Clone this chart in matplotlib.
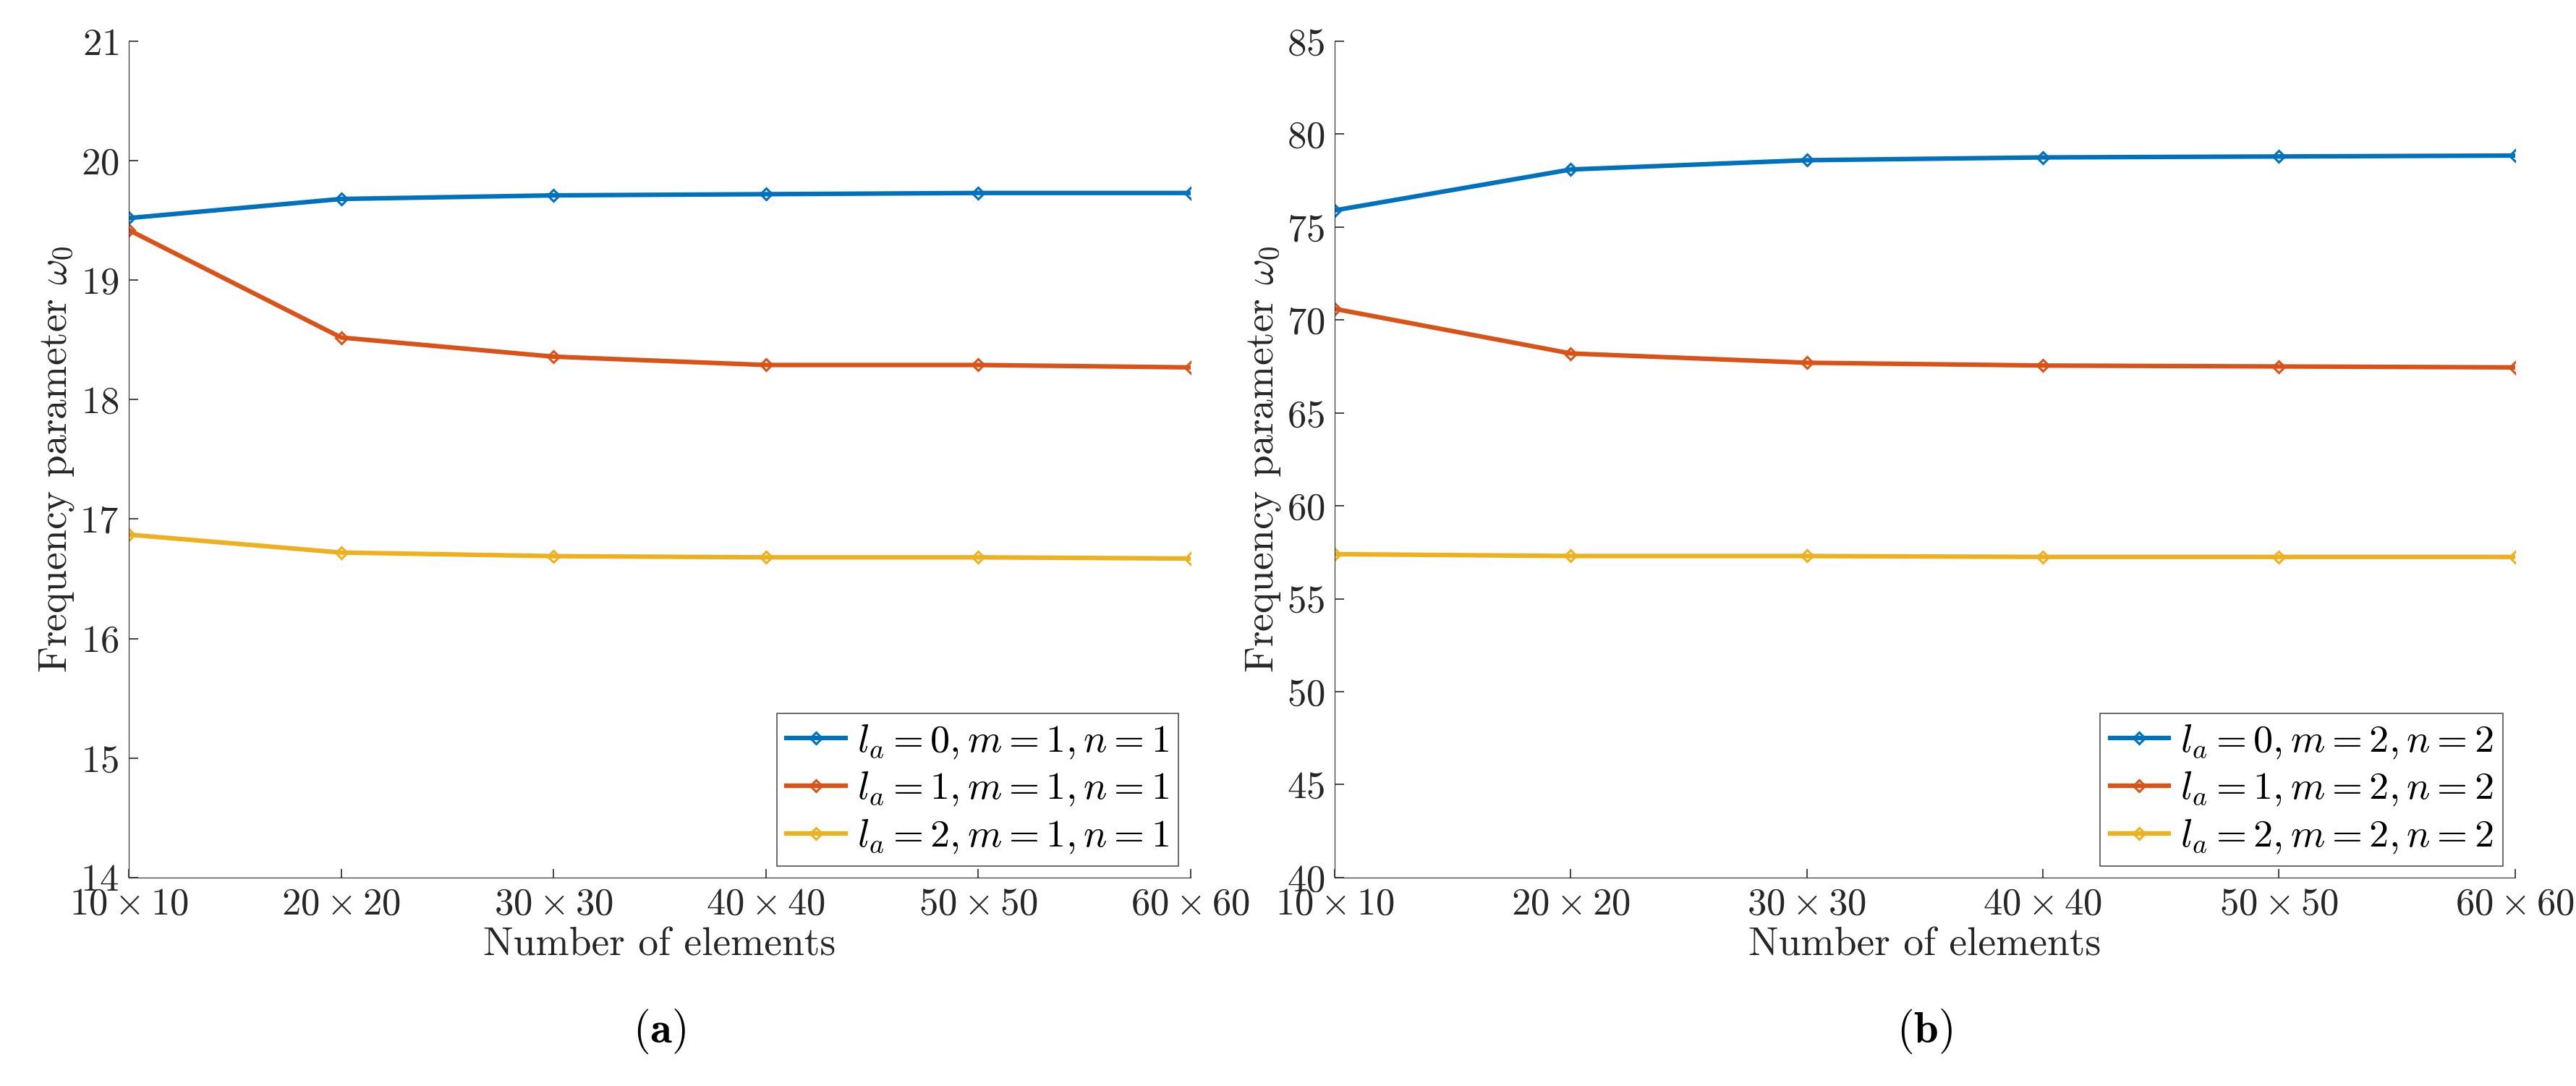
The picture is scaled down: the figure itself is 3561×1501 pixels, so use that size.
import matplotlib
matplotlib.use('Agg')
import matplotlib.pyplot as plt

plt.rcParams['font.family'] = 'serif'
plt.rcParams['font.serif'] = ['cmr10']
plt.rcParams['mathtext.fontset'] = 'cm'
plt.rcParams['axes.formatter.use_mathtext'] = True

mesh = [10, 20, 30, 40, 50, 60]
mesh_labels = [r'$%d\times%d$' % (m, m) for m in mesh]

a_l0 = [19.52, 19.68, 19.71, 19.72, 19.73, 19.73]
a_l1 = [19.42, 18.52, 18.36, 18.29, 18.29, 18.27]
a_l2 = [16.87, 16.72, 16.69, 16.68, 16.68, 16.67]

b_l0 = [75.9, 78.1, 78.6, 78.75, 78.8, 78.85]
b_l1 = [70.6, 68.2, 67.7, 67.55, 67.5, 67.45]
b_l2 = [57.4, 57.3, 57.3, 57.25, 57.25, 57.25]

colors = ['#0072BD', '#D95319', '#EDB120']

fig = plt.figure(figsize=(35.62, 15.01), dpi=100)
ax_a = fig.add_axes([0.050, 0.192, 0.412, 0.770])
ax_b = fig.add_axes([0.518, 0.192, 0.458, 0.770])

panels = [
    (ax_a, [a_l0, a_l1, a_l2], 1, (14, 21), range(14, 22), 'a'),
    (ax_b, [b_l0, b_l1, b_l2], 2, (40, 85), range(40, 86, 5), 'b'),
]
for ax, series, mn, ylim, yticks, tag in panels:
    for i, (vals, c) in enumerate(zip(series, colors)):
        ax.plot(mesh, vals, color=c, lw=4.5, marker='D', ms=8, mfc='none',
                mew=2.2, label=r'$l_a=%d, m=%d, n=%d$' % (i, mn, mn))
    ax.set_xlim(10, 60)
    ax.set_ylim(*ylim)
    ax.set_xticks(mesh)
    ax.set_xticklabels(mesh_labels)
    ax.set_yticks(list(yticks))
    ax.tick_params(labelsize=38, direction='in', length=9, width=1.2,
                   colors='#262626', pad=10)
    for s in ['top', 'right']:
        ax.spines[s].set_visible(False)
    for s in ['left', 'bottom']:
        ax.spines[s].set_color('#262626')
    ax.set_xlabel('Number of elements', fontsize=40, color='#262626', labelpad=6)
    ax.set_ylabel(r'Frequency parameter $\omega_0$', fontsize=40, color='#262626')
    ax.legend(loc='lower right', fontsize=39, frameon=True, fancybox=False,
              edgecolor='#262626', handlelength=1.5, handletextpad=0.3,
              borderpad=0.25, labelspacing=0.25,
              borderaxespad=0.3).get_frame().set_linewidth(1.2)
    bb = ax.get_position()
    fig.text((bb.x0 + bb.x1) / 2, 0.05, r'$\mathbf{(%s)}$' % tag,
             ha='center', va='center', fontsize=44)

fig.savefig('out.png', dpi=100)
